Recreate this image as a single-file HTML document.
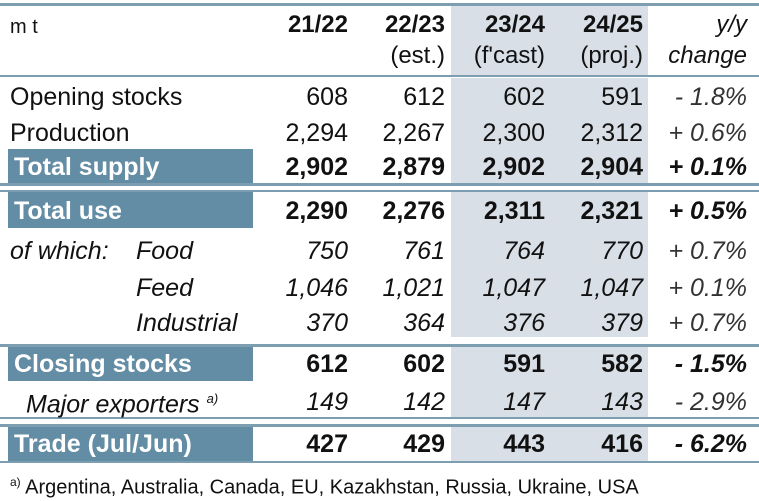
<!DOCTYPE html>
<html><head><meta charset="utf-8">
<style>
body{margin:0;width:759px;height:500px;background:#fff;position:relative;overflow:hidden;font-family:"Liberation Sans",Arial,sans-serif;color:#111}
div{position:absolute}
.sh{background:#d9dfe7}
.ln{background:#7d9db1;left:0;width:759px;height:2px}
.bar{background:#638ca5;left:8px;width:245px}
.t{white-space:nowrap;font-size:25px;line-height:26px}
.r{text-align:right}
.b{font-weight:bold}
.i{font-style:italic}
.lab{color:#fff;font-weight:bold;font-size:25px;left:14px}
</style></head><body>
<div class="sh" style="left:451px;width:197px;top:5px;height:71px"></div>
<div class="sh" style="left:451px;width:197px;top:78px;height:106px"></div>
<div class="sh" style="left:451px;width:197px;top:192px;height:145px"></div>
<div class="sh" style="left:451px;width:197px;top:347px;height:70px"></div>
<div class="sh" style="left:451px;width:197px;top:427px;height:34px"></div>

<div class="ln" style="top:3px;height:3px"></div>
<div class="ln" style="top:75px"></div>
<div class="ln" style="top:183px;height:3px"></div>
<div class="ln" style="top:190px"></div>
<div class="ln" style="top:344px;height:3px"></div>
<div class="ln" style="top:417px"></div>
<div class="ln" style="top:424px;height:3px"></div>
<div class="ln" style="top:461px"></div>

<div class="bar" style="top:149px;height:34px"></div>
<div class="bar" style="top:192px;height:36px"></div>
<div class="bar" style="top:347px;height:34px"></div>
<div class="bar" style="top:427px;height:34px"></div>

<div class="t" style="left:10px;top:14px;font-size:20px">m t</div>
<div class="t r b" style="right:411px;top:12px;font-size:24px">21/22</div>
<div class="t r b" style="right:314px;top:12px;font-size:24px">22/23</div>
<div class="t r b" style="right:214px;top:12px;font-size:24px">23/24</div>
<div class="t r b" style="right:116px;top:12px;font-size:24px">24/25</div>
<div class="t r i" style="right:12px;top:12px;font-size:24px">y/y</div>
<div class="t r" style="right:314px;top:43px;font-size:24px">(est.)</div>
<div class="t r" style="right:214px;top:43px;font-size:24px">(f'cast)</div>
<div class="t r" style="right:116px;top:43px;font-size:24px">(proj.)</div>
<div class="t r i" style="right:12px;top:43px;font-size:24px">change</div>

<div class="t" style="left:10px;top:469px;font-size:20px"><sup style="font-size:12px">a)</sup> Argentina, Australia, Canada, EU, Kazakhstan, Russia, Ukraine, USA</div>

<script>
const rowLabels=["Opening stocks","Production","Total supply","Total use","Food","Feed","Industrial","Closing stocks","Major exporters","Trade (Jul/Jun)"];
const rowTops=[84,120,154,198,238,275,310,351,389,431];
const v2122=["608","2,294","2,902","2,290","750","1,046","370","612","149","427"];
const v2223=["612","2,267","2,879","2,276","761","1,021","364","602","142","429"];
const v2324=["602","2,300","2,902","2,311","764","1,047","376","591","147","443"];
const v2425=["591","2,312","2,904","2,321","770","1,047","379","582","143","416"];
const yy=["- 1.8%","+ 0.6%","+ 0.1%","+ 0.5%","+ 0.7%","+ 0.1%","+ 0.7%","- 1.5%","- 2.9%","- 6.2%"];
const style=["n","n","bar","bar","it","it","it","bar","it","bar"];
const rights=[411,314,214,116];
const body=document.body;
rowLabels.forEach((lab,i)=>{
  const top=rowTops[i],s=style[i];
  const L=document.createElement('div');
  
  
  L.className='t'+(s==='bar'?' lab':'')+(s==='it'?' i':'');
  let left=10;
  if(s==='it'&&i>=4&&i<=6)left=136;
  if(i===8)left=26;
  L.style.left=(s==='bar'?14:left)+'px';L.style.top=(i===8?top-3:top)+'px';
  L.innerHTML=lab+(i===8?' <sup style="font-size:13px">a)</sup>':'');
  body.appendChild(L);
  if(i===4){
    const W=document.createElement('div');
    
    
    W.className='t i';W.style.left='10px';W.style.top=top+'px';W.textContent='of which:';
    body.appendChild(W);
  }
  [v2122,v2223,v2324,v2425].forEach((arr,c)=>{
    const d=document.createElement('div');
    
    
    d.className='t r'+(s==='bar'?' b':'')+(s==='it'?' i':'');
    d.style.right=rights[c]+'px';d.style.top=top+'px';d.textContent=arr[i];
    body.appendChild(d);
  });
  const y=document.createElement('div');
  
  
  y.className='t r i'+(s==='bar'?' b':'');
  y.style.right='12px';y.style.top=top+'px';y.style.color=s==='bar'?'#111':'#333';y.textContent=yy[i];
  body.appendChild(y);
});
</script>
</body></html>
